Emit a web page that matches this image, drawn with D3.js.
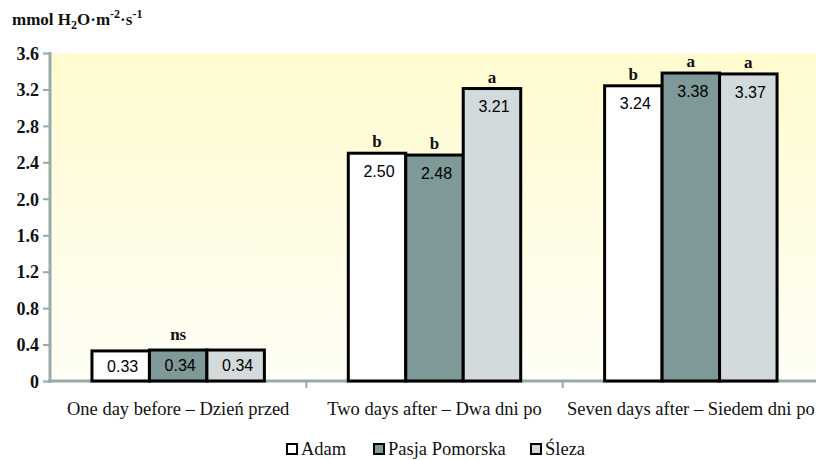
<!DOCTYPE html>
<html lang="en">
<head>
<meta charset="UTF-8">
<style>
body { margin: 0; background: #fff; }
.tick-lbl { font: bold 18px "Liberation Serif", "Times New Roman", serif; fill: #111; }
.cat-lbl { font: 18.5px "Liberation Serif", "Times New Roman", serif; fill: #111; }
.val { font: 16px "Liberation Sans", Arial, sans-serif; fill: #000; }
.sig { font: bold 17px "Liberation Serif", "Times New Roman", serif; fill: #111; }
.legend { font: 18.5px "Liberation Serif", "Times New Roman", serif; fill: #111; }
.ytitle { font: bold 17px "Liberation Serif", "Times New Roman", serif; fill: #111; }
</style>
</head>
<body>
<script src="https://d3js.org/d3.v7.min.js"></script>
<script>
// data
var categories = ["One day before \u2013 Dzie\u0144 przed", "Two days after \u2013 Dwa dni po", "Seven days after \u2013 Siedem dni po"];
var cultivars = ["Adam", "Pasja Pomorska", "\u015Aleza"];
var adam = [0.33, 2.50, 3.24];
var pasja = [0.34, 2.48, 3.38];
var sleza = [0.34, 3.21, 3.37];
var letters = [["", "ns", ""], ["b", "b", "a"], ["b", "a", "a"]];
var yTicks = [0, 0.4, 0.8, 1.2, 1.6, 2.0, 2.4, 2.8, 3.2, 3.6];

var series = [adam, pasja, sleza];
var colors = ["#ffffff", "#7f9898", "#d3dadb"];

var width = 816, height = 460;
var plotLeft = 50, plotRight = 819, plotTop = 53, plotBottom = 381;

var svg = d3.select("body").append("svg")
    .attr("width", width)
    .attr("height", height);

var grad = svg.append("defs").append("linearGradient")
    .attr("id", "bg").attr("x1", 0).attr("y1", 0).attr("x2", 0).attr("y2", 1);
grad.append("stop").attr("offset", "0%").attr("stop-color", "#fffbcf");
grad.append("stop").attr("offset", "100%").attr("stop-color", "#fffef6");

var x = d3.scaleBand().domain(d3.range(categories.length)).range([plotLeft, plotRight]);
var xs = d3.scaleBand().domain(d3.range(cultivars.length))
    .range([0, x.bandwidth()]).paddingOuter(0.73).paddingInner(0);
var y = d3.scaleLinear().domain([0, 3.6]).range([plotBottom, plotTop]);

// plot background
svg.append("rect")
    .attr("x", plotLeft).attr("y", plotTop)
    .attr("width", plotRight - plotLeft).attr("height", plotBottom - plotTop)
    .attr("fill", "url(#bg)");

// y axis
var yAxis = svg.append("g").attr("transform", "translate(" + plotLeft + ",0)")
    .call(d3.axisLeft(y).tickValues(yTicks).tickSize(7).tickPadding(4)
        .tickFormat(function(d) { return d === 0 ? "0" : d3.format(".1f")(d); }));
yAxis.select(".domain").attr("stroke", "#98aaaa").attr("stroke-width", 3)
    .attr("d", "M0," + (plotTop - 1) + "V" + (plotBottom + 2));
yAxis.selectAll(".tick line").attr("stroke", "#98aaaa").attr("stroke-width", 2);
yAxis.selectAll(".tick text").attr("class", "tick-lbl").attr("dy", "0.35em");

// x axis
var xAxis = svg.append("g").attr("transform", "translate(0," + plotBottom + ")");
xAxis.append("line").attr("x1", plotLeft - 2).attr("x2", width)
    .attr("stroke", "#98aaaa").attr("stroke-width", 3);
xAxis.selectAll(".xt").data(d3.range(1, categories.length)).enter().append("line")
    .attr("x1", function(d) { return x(d); }).attr("x2", function(d) { return x(d); })
    .attr("y1", 0).attr("y2", 7)
    .attr("stroke", "#98aaaa").attr("stroke-width", 2);
xAxis.selectAll(".cat-lbl").data(categories).enter().append("text")
    .attr("class", "cat-lbl")
    .attr("x", function(d, i) { return x(i) + x.bandwidth() / 2; })
    .attr("y", 34)
    .attr("text-anchor", "middle")
    .text(function(d) { return d; });

// bars
var groups = svg.selectAll(".grp").data(categories).enter().append("g")
    .attr("transform", function(d, i) { return "translate(" + x(i) + ",0)"; });

groups.each(function(c, ci) {
  var g = d3.select(this);
  cultivars.forEach(function(k, si) {
    var v = series[si][ci];
    var bx = xs(si), bw = xs.bandwidth();
    g.append("rect")
        .attr("x", bx).attr("y", y(v))
        .attr("width", bw).attr("height", plotBottom - y(v))
        .attr("fill", colors[si])
        .attr("stroke", "#000").attr("stroke-width", 3);
    var inside = plotBottom - y(v) < 40;
    g.append("text").attr("class", "val")
        .attr("x", bx + bw / 2 + 2)
        .attr("y", inside ? (y(v) + plotBottom) / 2 : y(v) + 18)
        .attr("dy", "0.35em")
        .attr("text-anchor", "middle")
        .text(d3.format(".2f")(v));
    if (letters[ci][si]) {
      g.append("text").attr("class", "sig")
          .attr("x", bx + bw / 2)
          .attr("y", y(v) - (inside ? 10 : 6))
          .attr("text-anchor", "middle")
          .text(letters[ci][si]);
    }
  });
});

// y title
var title = svg.append("text").attr("class", "ytitle")
    .attr("x", 12).attr("y", 25);
title.append("tspan").text("mmol H");
title.append("tspan").attr("dy", 4).style("font-size", "12px").text("2");
title.append("tspan").attr("dy", -4).text("O\u00B7m");
title.append("tspan").attr("dy", -7).style("font-size", "12px").text("-2");
title.append("tspan").attr("dy", 7).text("\u00B7s");
title.append("tspan").attr("dy", -7).style("font-size", "12px").text("-1");

// legend
var legendX = [286, 373, 530];
var lg = svg.selectAll(".lg").data(cultivars).enter().append("g")
    .attr("transform", function(d, i) { return "translate(" + legendX[i] + ",442)"; });
lg.append("rect").attr("x", 1).attr("y", 2).attr("width", 10).attr("height", 10)
    .attr("fill", function(d, i) { return colors[i]; })
    .attr("stroke", "#000").attr("stroke-width", 2);
lg.append("text").attr("class", "legend")
    .attr("x", 15).attr("y", 13)
    .text(function(d) { return d; });
</script>
</body>
</html>
